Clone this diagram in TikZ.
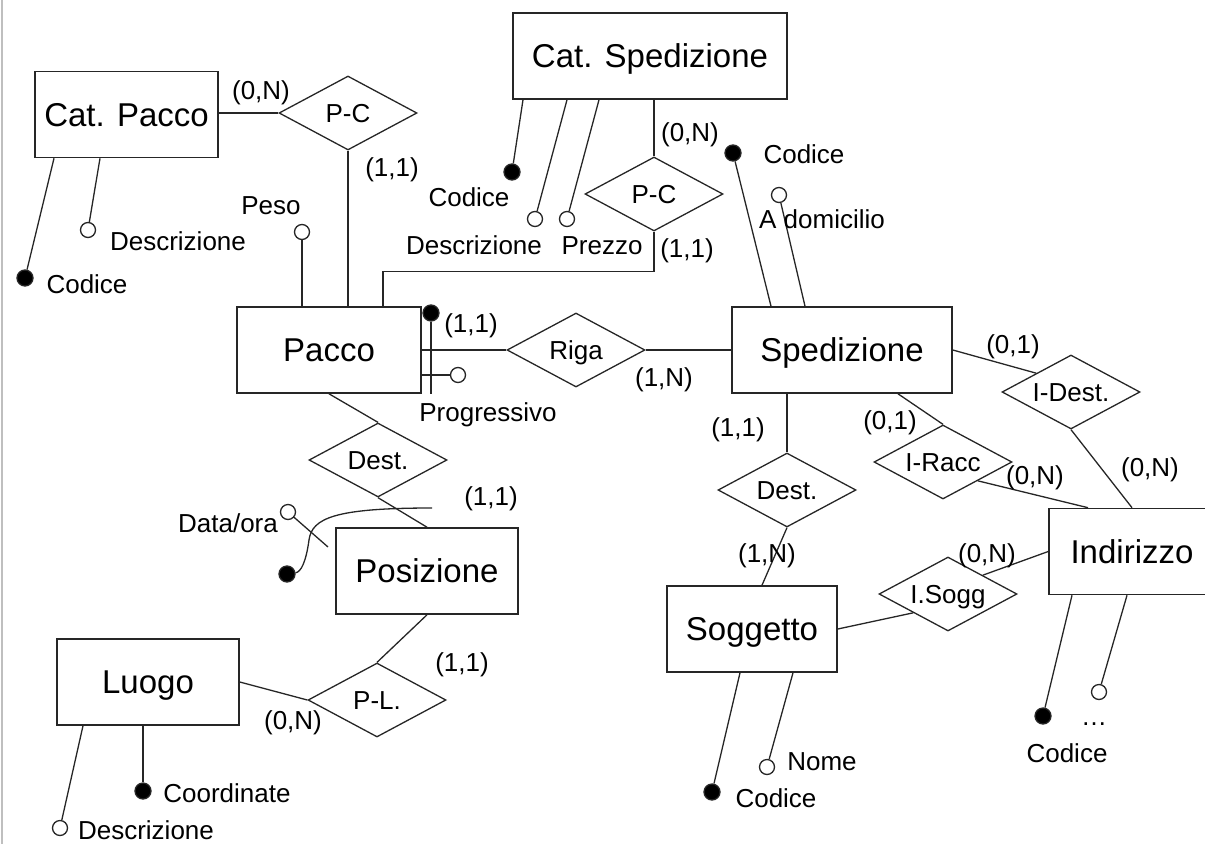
\documentclass[tikz,border=0pt]{standalone}
\usepackage{fontspec}
\setmainfont{Liberation Sans}
\usepackage{tikz}
\usetikzlibrary{shapes.geometric,calc}
\newcommand{\entfont}{\fontsize{33}{38}\selectfont}
\newcommand{\lblfont}{\fontsize{26}{30}\selectfont}

\begin{document}
\begin{tikzpicture}[x=1pt,y=-1pt,line width=1.3pt,color=black!85,
    entity/.style={draw,rectangle,minimum height=86pt,inner sep=0pt,line width=1.6pt,font=\entfont,text=black,text height=23.6pt,text depth=0pt},
    rel/.style={draw,diamond,aspect=1.87,minimum width=138pt,minimum height=74pt,inner sep=0pt,font=\lblfont,text=black,text height=18.6pt,text depth=0pt},
    lbl/.style={font=\lblfont,inner sep=0pt,text=black,text height=18.6pt,text depth=0pt},
    key/.style={circle,draw,fill=black,minimum size=16pt,inner sep=0pt},
    attr/.style={circle,draw,fill=white,minimum size=15pt,inner sep=0pt}]
    \useasboundingbox (0,0) rectangle (1205,844);
    \draw[black!25,line width=2pt] (2,0) -- (2,844);

    % Entities
    \node[entity,minimum width=183pt] (catpacco) at (126.5,114.5) {Cat. Pacco};
    \node[entity,minimum width=274pt] (catsped) at (650,56) {Cat. Spedizione};
    \node[entity,minimum width=184pt] (pacco) at (329,350) {Pacco};
    \node[entity,minimum width=220pt] (sped) at (842,350) {Spedizione};
    \node[entity,minimum width=182pt] (posiz) at (427,571) {Posizione};
    \node[entity,minimum width=182pt] (luogo) at (148,682) {Luogo};
    \node[entity,minimum width=170pt] (sogg) at (752,629) {Soggetto};
    \node[entity,minimum width=166pt] (indir) at (1132,551.5) {Indirizzo};

    % Relationships
    \node[rel] (pccp) at (348,113) {P-C};
    \node[rel] (pcsp) at (654,194) {P-C};
    \node[rel] (riga) at (576,350) {Riga};
    \node[rel] (destp) at (378,460) {Dest.};
    \node[rel] (pl) at (377,700) {P-L.};
    \node[rel] (dests) at (787,490) {Dest.};
    \node[rel] (iracc) at (943,462) {I-Racc};
    \node[rel] (idest) at (1071,392) {I-Dest.};
    \node[rel] (isogg) at (948,594) {I.Sogg};

    % Connections
    \draw (pccp.west) -- (pccp.west -| catpacco.east);
    \draw (pccp.south) -- (pccp.south |- pacco.north);
    \draw (pcsp.north) -- (pcsp.north |- catsped.south);
    \draw (pcsp.south) |- ([yshift=-40pt]pcsp.south) -| ([xshift=54pt]pacco.north);
    \draw (pacco.east) -- (riga.west);
    \draw (riga.east) -- (sped.west);
    \draw (pacco.south) -- (destp.north);
    \draw (destp.south) -- (posiz.north);
    \draw (posiz.south) -- (pl.north);
    \draw (luogo.east) -- (pl.west);
    \draw ([xshift=-55pt]sped.south) -- (dests.north);
    \draw (dests.south) -- ([xshift=10pt]sogg.north);
    \draw ([xshift=56pt]sped.south) -- (iracc.north);
    \draw (iracc.south east) -- ([xshift=-44pt]indir.north);
    \draw (sped.east) -- (idest.north west);
    \draw (idest.south) -- (indir.north);
    \draw (indir.west) -- (isogg.north east);
    \draw (isogg.south west) -- (sogg.east);

    % Cardinalities
    \foreach \x/\y/\card [count=\i] in {261/90/{(0,N)}, 392/167/{(1,1)}, 690/132/{(0,N)}, 687/248/{(1,1)},
        471/323/{(1,1)}, 664/377/{(1,N)}, 491/496/{(1,1)}, 462/662/{(1,1)}, 293/720/{(0,N)},
        738/427/{(1,1)}, 767/553/{(1,N)}, 890/420/{(0,1)}, 1035/475/{(0,N)}, 1013/344/{(0,1)},
        1150/467/{(0,N)}, 987/553/{(0,N)}}
        \node[lbl] (card\i) at (\x,\y) {\card};

    % Attributes of Cat. Pacco
    \node[key] (cpcod) at (25,278) {};
    \node[attr] (cpdesc) at (88,230) {};
    \draw (cpcod) -- ([xshift=-72.5pt]catpacco.south);
    \draw (cpdesc) -- ([xshift=-26.5pt]catpacco.south);
    \node[lbl] (lcpcod) at (87,284) {Codice};
    \node[lbl] (lcpdesc) at (178,241) {Descrizione};

    % Attributes of Cat. Spedizione
    \node[key] (cscod) at (512,172) {};
    \node[attr] (csdesc) at (535,219) {};
    \node[attr] (csprez) at (567,219) {};
    \draw (cscod) -- ([xshift=-127pt]catsped.south);
    \draw (csdesc) -- ([xshift=-83pt]catsped.south);
    \draw (csprez) -- ([xshift=-51pt]catsped.south);
    \node[lbl] (lcscod) at (469,197) {Codice};
    \node[lbl] (lcsdesc) at (474,245) {Descrizione};
    \node[lbl] (lcsprez) at (602,245) {Prezzo};

    % Attributes of Pacco
    \node[attr] (peso) at (302,232) {};
    \draw (peso) -- ([xshift=-27pt]pacco.north);
    \node[lbl] (lpeso) at (271,205) {Peso};
    \node[key] (pkey) at (431,313) {};
    \draw (pkey) -- (pkey |- pacco.south);
    \node[attr] (progr) at (458,375) {};
    \draw (progr) -- (progr -| pacco.east);
    \node[lbl] (lprogr) at (488,412) {Progressivo};

    % Attributes of Spedizione
    \node[key] (spcod) at (733,153) {};
    \node[attr] (spdom) at (779,195) {};
    \draw (spcod) -- ([xshift=-71pt]sped.north);
    \draw (spdom) -- ([xshift=-37pt]sped.north);
    \node[lbl] (lspcod) at (804,154) {Codice};
    \node[lbl] (lspdom) at (822,219) {A domicilio};

    % Attributes of Posizione
    \node[attr] (data) at (288,512) {};
    \coordinate (dataend) at (328,547);
    \draw (data) -- (dataend);
    \node[lbl] (ldata) at (228,523) {Data/ora};
    \node[key] (posid) at (287,574) {};
    \coordinate (idstart) at (432,508);
    \draw (idstart) .. controls (335,508) and (312,518) .. (309,540)
        .. controls (306,562) and (301,572) .. (posid);

    % Attributes of Luogo
    \node[key] (lcoord) at (143,791) {};
    \node[attr] (ldesc) at (60,828) {};
    \draw (lcoord) -- (lcoord |- luogo.south);
    \draw (ldesc) -- ([xshift=-65pt]luogo.south);
    \node[lbl] (llcoord) at (227,793) {Coordinate};
    \node[lbl] (lldesc) at (146,830) {Descrizione};

    % Attributes of Soggetto
    \node[key] (scod) at (712,792) {};
    \node[attr] (snome) at (767,767) {};
    \draw (scod) -- ([xshift=-12pt]sogg.south);
    \draw (snome) -- ([xshift=41pt]sogg.south);
    \node[lbl] (lscod) at (776,798) {Codice};
    \node[lbl] (lsnome) at (822,761) {Nome};

    % Attributes of Indirizzo
    \node[key] (icod) at (1043,716) {};
    \node[attr] (iother) at (1099,692) {};
    \draw (icod) -- ([xshift=-60pt]indir.south);
    \draw (iother) -- ([xshift=-5pt]indir.south);
    \node[lbl] (licod) at (1067,753) {Codice};
    \node[lbl] (liother) at (1094,716) {…};
\end{tikzpicture}
\end{document}
